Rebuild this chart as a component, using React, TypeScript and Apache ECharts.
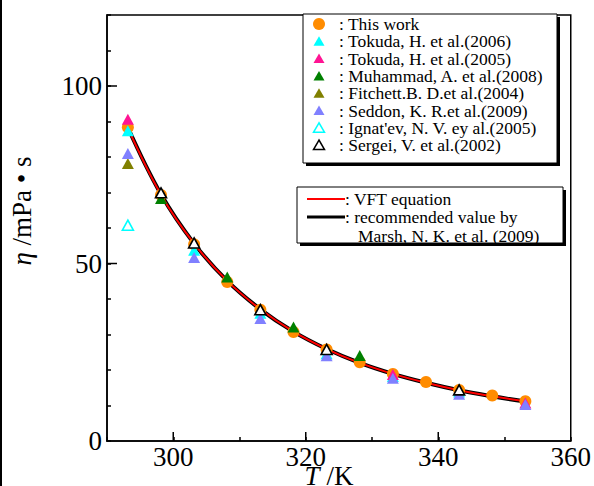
import React, { useEffect, useRef } from 'react';
import * as echarts from 'echarts';

// This work (orange circles)
const thisWorkT = [293.15, 298.15, 303.15, 308.15, 313.15, 318.15, 323.15, 328.15, 333.15, 338.15, 343.15, 348.15, 353.15];
const thisWorkEta = [88.4, 69.3, 55.4, 44.8, 37.0, 30.7, 25.8, 22.2, 18.9, 16.6, 14.4, 12.8, 11.2];

const tokuda2006T = [293.15, 303.15, 313.15, 323.15, 333.15, 343.15];
const tokuda2006Eta = [87.4, 53.7, 36.0, 24.6, 18.2, 13.8];

const tokuda2005T = [293.15, 333.15, 353.15];
const tokuda2005Eta = [90.6, 18.7, 10.7];

const muhammadT = [298.15, 308.15, 318.15, 328.15];
const muhammadEta = [68.3, 46.2, 32.1, 24.1];

const fitchettT = [293.15];
const fitchettEta = [78.2];

const seddonT = [293.15, 303.15, 313.15, 323.15, 333.15, 343.15, 353.15];
const seddonEta = [81.0, 51.7, 34.5, 24.0, 17.7, 13.2, 10.3];

const ignatevT = [293.15];
const ignatevEta = [60.8];

const sergeiT = [298.15, 303.15, 313.15, 323.15, 343.15];
const sergeiEta = [69.9, 55.8, 37.0, 25.8, 14.4];

// Curves
const curveT = [293.15, 298.15, 303.15, 308.15, 313.15, 318.15, 323.15, 328.15, 333.15, 338.15, 343.15, 348.15, 353.15];
const vftEta = [88.2, 69.4, 55.6, 45.1, 37.1, 30.8, 25.9, 22.0, 18.9, 16.4, 14.3, 12.6, 11.2];
const marshEta = [88.3, 69.5, 55.6, 45.1, 37.1, 30.8, 25.9, 22.0, 18.9, 16.4, 14.3, 12.6, 11.1];

// Axis ticks
const xMajorTicks = [300, 320, 340];
const yMajorTicks = [50, 100];

const legendNames = [
  ': This work',
  ': Tokuda, H. et al.(2006)',
  ': Tokuda, H. et al.(2005)',
  ': Muhammad, A. et al.(2008)',
  ': Fitchett.B. D.et al.(2004)',
  ': Seddon, K. R.et al.(2009)',
  ": Ignat'ev, N. V. ey al.(2005)",
  ': Sergei, V. et al.(2002)',
];
const lineLegendNames = [': VFT equation', ': recommended value by', 'Marsh, N. K. et al. (2009)'];

const FONT = '"Liberation Serif", "Times New Roman", "DejaVu Serif", serif';

const C_ORANGE = '#FF8C00';
const C_CYAN = '#00FFFF';
const C_PINK = '#FF1493';
const C_GREEN = '#008000';
const C_OLIVE = '#808000';
const C_LAV = '#8080FF';

const pairs = (t: number[], e: number[]) => t.map((x, i) => [x, e[i]]);

export default function App() {
  const ref = useRef<HTMLDivElement>(null);
  useEffect(() => {
    const chart = echarts.init(ref.current!, null, { renderer: 'svg' });

    const triSize = [12, 11];
    const filledTri = (name: string, t: number[], e: number[], color: string) => ({
      name,
      type: 'scatter',
      symbol: 'triangle',
      symbolSize: triSize,
      data: pairs(t, e),
      itemStyle: { color, opacity: 1 },
      z: 3,
    });
    const hollowTri = (name: string, t: number[], e: number[], color: string) => ({
      name,
      type: 'scatter',
      symbol: 'triangle',
      symbolSize: [11, 10],
      data: pairs(t, e),
      itemStyle: { color: '#fff', borderColor: color, borderWidth: 1.6, opacity: 1 },
      z: 3,
    });

    const tickStyle = { stroke: '#000', lineWidth: 1.5 };

    // Legend graphics
    const lx = 319;
    const ly0 = 24;
    const lstep = 17.3;
    const triPts = (x: number, y: number) => [
      [x, y - 5],
      [x - 5.5, y + 4.5],
      [x + 5.5, y + 4.5],
    ];
    const legendSymbols: any[] = [];
    const symbolSpecs = [
      { kind: 'circle', fill: C_ORANGE },
      { kind: 'tri', fill: C_CYAN },
      { kind: 'tri', fill: C_PINK },
      { kind: 'tri', fill: C_GREEN },
      { kind: 'tri', fill: C_OLIVE },
      { kind: 'tri', fill: C_LAV },
      { kind: 'hollow', stroke: C_CYAN },
      { kind: 'hollow', stroke: '#000' },
    ];
    symbolSpecs.forEach((s, i) => {
      const y = ly0 + i * lstep;
      if (s.kind === 'circle') {
        legendSymbols.push({ type: 'circle', shape: { cx: lx, cy: y, r: 6 }, style: { fill: s.fill } });
      } else if (s.kind === 'tri') {
        legendSymbols.push({ type: 'polygon', shape: { points: triPts(lx, y) }, style: { fill: s.fill } });
      } else {
        legendSymbols.push({
          type: 'polygon',
          shape: { points: triPts(lx, y) },
          style: { fill: '#fff', stroke: s.stroke, lineWidth: 1.5 },
        });
      }
      legendSymbols.push({
        type: 'text',
        x: 339,
        y,
        style: { text: legendNames[i], fill: '#000', font: `17.5px ${FONT}`, verticalAlign: 'middle', align: 'left' },
      });
    });

    chart.setOption({
      animation: false,
      backgroundColor: '#fff',
      grid: {
        left: 107,
        right: 20,
        top: 15,
        bottom: 45,
        show: true,
        borderColor: '#000',
        borderWidth: 1.5,
        backgroundColor: 'transparent',
      },
      xAxis: {
        type: 'value',
        min: 290,
        max: 360,
        interval: 10,
        axisLine: { lineStyle: { color: '#000', width: 1.5 } },
        axisTick: { inside: true, length: 4, lineStyle: { color: '#000', width: 1.5 } },
        splitLine: { show: false },
        axisLabel: {
          color: '#000',
          fontSize: 27,
          fontFamily: FONT,
          margin: 2,
          formatter: (v: number) => (v % 20 === 0 ? String(v) : ''),
        },
      },
      yAxis: {
        type: 'value',
        min: 0,
        max: 120,
        interval: 10,
        axisLine: { lineStyle: { color: '#000', width: 1.5 } },
        axisTick: { inside: true, length: 4, lineStyle: { color: '#000', width: 1.5 } },
        splitLine: { show: false },
        axisLabel: {
          color: '#000',
          fontSize: 27,
          fontFamily: FONT,
          margin: 5,
          formatter: (v: number) => (v % 50 === 0 ? String(v) : ''),
        },
      },
      series: [
        {
          type: 'custom',
          silent: true,
          z: 6,
          data: xMajorTicks.map((v) => [v, 0]),
          renderItem: (_p: any, api: any) => {
            const c = api.coord([api.value(0), api.value(1)]);
            return { type: 'line', shape: { x1: c[0], y1: c[1], x2: c[0], y2: c[1] - 9 }, style: tickStyle };
          },
        },
        {
          type: 'custom',
          silent: true,
          z: 6,
          data: yMajorTicks.map((v) => [290, v]),
          renderItem: (_p: any, api: any) => {
            const c = api.coord([api.value(0), api.value(1)]);
            return { type: 'line', shape: { x1: c[0], y1: c[1], x2: c[0] + 10, y2: c[1] }, style: tickStyle };
          },
        },
        {
          name: 'Marsh',
          type: 'line',
          data: pairs(curveT, marshEta),
          showSymbol: false,
          smooth: 0.4,
          lineStyle: { color: '#000', width: 4 },
          z: 1,
        },
        {
          name: 'VFT',
          type: 'line',
          data: pairs(curveT, vftEta),
          showSymbol: false,
          smooth: 0.4,
          lineStyle: { color: '#FF0000', width: 2 },
          z: 1,
        },
        {
          name: 'This work',
          type: 'scatter',
          symbol: 'circle',
          symbolSize: 12,
          data: pairs(thisWorkT, thisWorkEta),
          itemStyle: { color: C_ORANGE, opacity: 1 },
          z: 2,
        },
        filledTri('Tokuda 2006', tokuda2006T, tokuda2006Eta, C_CYAN),
        filledTri('Tokuda 2005', tokuda2005T, tokuda2005Eta, C_PINK),
        filledTri('Muhammad 2008', muhammadT, muhammadEta, C_GREEN),
        filledTri('Fitchett 2004', fitchettT, fitchettEta, C_OLIVE),
        filledTri('Seddon 2009', seddonT, seddonEta, C_LAV),
        hollowTri("Ignat'ev 2005", ignatevT, ignatevEta, C_CYAN),
        hollowTri('Sergei 2002', sergeiT, sergeiEta, '#000'),
      ],
      graphic: [
        { type: 'rect', shape: { x: 0, y: 0, width: 2, height: 486 }, style: { fill: '#000' }, z: 100 },
        // legend box 1
        { type: 'rect', shape: { x: 306, y: 17, width: 254, height: 149 }, style: { fill: '#000' }, z: 100 },
        { type: 'rect', shape: { x: 303, y: 14, width: 254, height: 149 }, style: { fill: '#fff', stroke: '#000', lineWidth: 1 }, z: 100 },
        ...legendSymbols.map((g) => ({ ...g, z: 101 })),
        // legend box 2
        { type: 'rect', shape: { x: 300, y: 190, width: 266, height: 56 }, style: { fill: '#000' }, z: 100 },
        { type: 'rect', shape: { x: 297, y: 187, width: 266, height: 56 }, style: { fill: '#fff', stroke: '#000', lineWidth: 1 }, z: 100 },
        { type: 'line', shape: { x1: 307, y1: 199, x2: 345, y2: 199 }, style: { stroke: '#FF0000', lineWidth: 2 }, z: 101 },
        { type: 'line', shape: { x1: 307, y1: 217, x2: 345, y2: 217 }, style: { stroke: '#000', lineWidth: 3 }, z: 101 },
        { type: 'text', x: 345, y: 199, style: { text: lineLegendNames[0], fill: '#000', font: `17.5px ${FONT}`, verticalAlign: 'middle' }, z: 101 },
        { type: 'text', x: 345, y: 217, style: { text: lineLegendNames[1], fill: '#000', font: `17.5px ${FONT}`, verticalAlign: 'middle' }, z: 101 },
        { type: 'text', x: 358, y: 236, style: { text: lineLegendNames[2], fill: '#000', font: `17.5px ${FONT}`, verticalAlign: 'middle' }, z: 101 },
        // axis names
        {
          type: 'text',
          x: 22,
          y: 211,
          rotation: Math.PI / 2,
          style: {
            text: '{i|η} /mPa • s',
            fill: '#000',
            font: `27px ${FONT}`,
            align: 'center',
            verticalAlign: 'middle',
            rich: { i: { fontStyle: 'italic', fontSize: 27, fontFamily: FONT } },
          },
          z: 101,
        },
        {
          type: 'text',
          x: 329,
          y: 476,
          style: {
            text: '{i|T} /K',
            fill: '#000',
            font: `27px ${FONT}`,
            align: 'center',
            verticalAlign: 'middle',
            rich: { i: { fontStyle: 'italic', fontSize: 27, fontFamily: FONT } },
          },
          z: 101,
        },
      ],
    });
    return () => chart.dispose();
  }, []);
  return <div ref={ref} style={{ position: 'absolute', left: 0, top: 0, width: 594, height: 486 }} />;
}
